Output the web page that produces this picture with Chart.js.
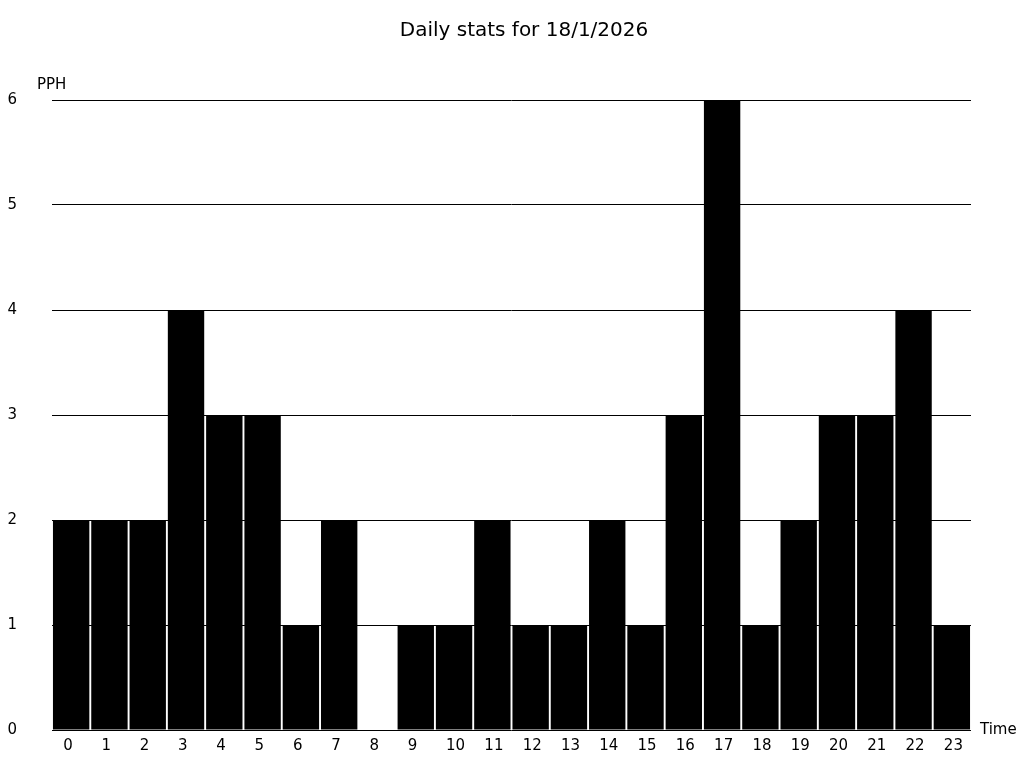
<!DOCTYPE html>
<html>
<head>
<meta charset="utf-8">
<script src="https://cdn.jsdelivr.net/npm/chart.js@4/dist/chart.umd.min.js"></script>
<style>
html,body{margin:0;padding:0;background:#fff;}
canvas{display:block;}
</style>
</head>
<body>
<canvas id="c" width="1024" height="768"></canvas>
<script>
const titleText = "Daily stats for 18/1/2026";
const yAxisLabel = "PPH";
const xAxisLabel = "Time";
const hours = ["0","1","2","3","4","5","6","7","8","9","10","11","12","13","14","15","16","17","18","19","20","21","22","23"];
const pph = [2,2,2,4,3,3,1,2,0,1,1,2,1,1,2,1,3,6,1,2,3,3,4,1];
const yTicks = [0,1,2,3,4,5,6];

const FONT = "'DejaVu Sans', sans-serif";

const textPlugin = {
  id: 'texts',
  afterDraw(chart) {
    const ctx = chart.ctx;
    const a = chart.chartArea;
    ctx.save();
    ctx.fillStyle = '#000';
    ctx.font = '20px ' + FONT;
    ctx.textAlign = 'center';
    ctx.textBaseline = 'middle';
    ctx.fillText(titleText, 524, 31);
    ctx.font = '15px ' + FONT;
    ctx.textAlign = 'left';
    ctx.fillText(yAxisLabel, 37, a.top - 15);
    ctx.fillText(xAxisLabel, 980, a.bottom);
    ctx.restore();
  }
};

new Chart(document.getElementById('c'), {
  type: 'bar',
  data: {
    labels: hours,
    datasets: [{
      data: pph,
      backgroundColor: '#000',
      borderWidth: 0,
      barPercentage: 0.95,
      categoryPercentage: 1.0
    }]
  },
  options: {
    responsive: false,
    animation: false,
    layout: { autoPadding: false, padding: { top: 100, right: 53, left: 0, bottom: 7 } },
    plugins: {
      legend: { display: false },
      title: { display: false },
      tooltip: { enabled: false }
    },
    scales: {
      x: {
        grid: { display: false, drawTicks: false },
        border: { display: false },
        ticks: { color: '#000', font: { family: FONT, size: 15 }, padding: 7, maxRotation: 0, autoSkip: false, align: 'start', labelOffset: -8 },
        afterFit(s) { s.height = 31; s.paddingLeft = 0; s.paddingRight = 0; }
      },
      y: {
        min: 0, max: 6,
        afterBuildTicks(s) { s.ticks = yTicks.map(v => ({ value: v })); },
        grid: { color: '#000', lineWidth: 1, drawTicks: false },
        border: { display: false },
        ticks: { color: '#000', font: { family: FONT, size: 15 }, padding: 35 },
        afterFit(s) { s.width = 52; s.paddingTop = 0; s.paddingBottom = 0; }
      }
    }
  },
  plugins: [textPlugin]
});
</script>
</body>
</html>
